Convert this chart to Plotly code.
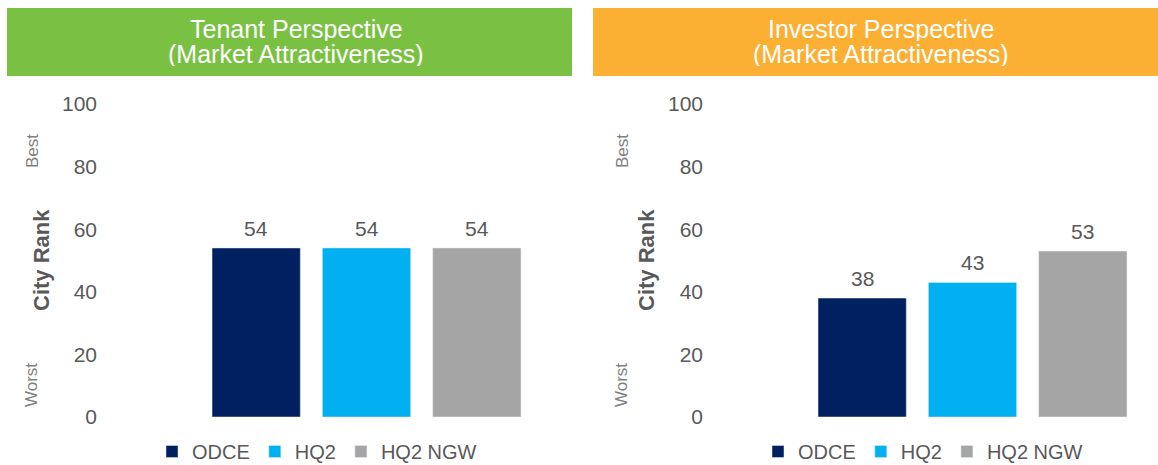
import plotly.graph_objects as go

categories = ["ODCE", "HQ2", "HQ2 NGW"]
tenant_rank = [54, 54, 54]
investor_rank = [38, 43, 53]
colors = ["#002060", "#00B0F0", "#A5A5A5"]
y_ticks = [0, 20, 40, 60, 80, 100]
panel_titles = [["Tenant Perspective", "(Market Attractiveness)"],
                ["Investor Perspective", "(Market Attractiveness)"]]

W, H = 1158, 465
FONT = "Liberation Sans, Arial, sans-serif"
TXT = "#595959"

def px(x):
    return x / W

def py(y):
    return (H - y) / H

fig = go.Figure()

for panel, (vals, xa, ya, lg) in enumerate([(tenant_rank, "x", "y", "legend"),
                                             (investor_rank, "x2", "y2", "legend2")]):
    for cat, v, c in zip(categories, vals, colors):
        fig.add_trace(go.Bar(
            x=[cat], y=[v], name=cat, marker_color=c, xaxis=xa, yaxis=ya,
            legend=lg, hoverinfo="skip",
        ))
        # value label above each bar, positioned through the axes
        fig.add_annotation(text=str(v), x=cat, y=v, xref=xa, yref=ya, showarrow=False,
                           xanchor="center", yanchor="bottom", yshift=6,
                           font=dict(size=21, color=TXT, family=FONT))

yaxis_common = dict(range=[0, 100], tickvals=y_ticks, showgrid=False, zeroline=False,
                    showline=False, ticks="", tickfont=dict(size=21, color=TXT, family=FONT),
                    ticklabelstandoff=103, domain=[py(417), py(104)])
xaxis_common = dict(showticklabels=False, showgrid=False, zeroline=False, showline=False,
                    ticks="", range=[-0.5, 2.5], categoryorder="array", categoryarray=categories)

fig.update_layout(
    width=W, height=H, margin=dict(l=0, r=0, t=0, b=0, autoexpand=False),
    paper_bgcolor="white", plot_bgcolor="white",
    barmode="overlay", bargap=0.2,
    xaxis=dict(domain=[px(201), px(532)], anchor="y", **xaxis_common),
    xaxis2=dict(domain=[px(807), px(1138)], anchor="y2", **xaxis_common),
    yaxis=dict(anchor="x", **yaxis_common),
    yaxis2=dict(anchor="x2", **yaxis_common),
    legend=dict(orientation="h", x=px(152), xanchor="left", y=py(471), yanchor="bottom",
                font=dict(size=20, color=TXT, family=FONT), bgcolor="rgba(0,0,0,0)"),
    legend2=dict(orientation="h", x=px(758), xanchor="left", y=py(471), yanchor="bottom",
                 font=dict(size=20, color=TXT, family=FONT), bgcolor="rgba(0,0,0,0)"),
    font=dict(family=FONT, color=TXT),
)

# header boxes
for (x0, x1, col, tc, titles) in [(7, 572, "#7AC143", 296, panel_titles[0]),
                                  (593, 1158, "#FBAF33", 881, panel_titles[1])]:
    fig.add_shape(type="rect", xref="paper", yref="paper", x0=px(x0), x1=px(x1),
                  y0=py(76), y1=py(8), fillcolor=col, line_width=0, layer="below")
    for i, t in enumerate(titles):
        fig.add_annotation(text=t, xref="paper", yref="paper", x=px(tc), y=py(29 + 25 * i),
                           xanchor="center", yanchor="middle", showarrow=False,
                           height=24, valign="middle",
                           font=dict(size=25, color="white", family=FONT))

# axis side labels
for cx, bx in [(41, 32), (646, 622)]:
    fig.add_annotation(text="<b>City Rank</b>", xref="paper", yref="paper", x=px(cx), y=py(260),
                       textangle=-90, showarrow=False, xanchor="center", yanchor="middle",
                       font=dict(size=22, color=TXT, family=FONT))
    fig.add_annotation(text="Best", xref="paper", yref="paper", x=px(bx), y=py(151),
                       textangle=-90, showarrow=False, xanchor="center", yanchor="middle",
                       font=dict(size=17, color="#7F7F7F", family=FONT))
    fig.add_annotation(text="Worst", xref="paper", yref="paper", x=px(bx), y=py(385),
                       textangle=-90, showarrow=False, xanchor="center", yanchor="middle",
                       font=dict(size=17, color="#7F7F7F", family=FONT))

fig.write_html("out.html")
